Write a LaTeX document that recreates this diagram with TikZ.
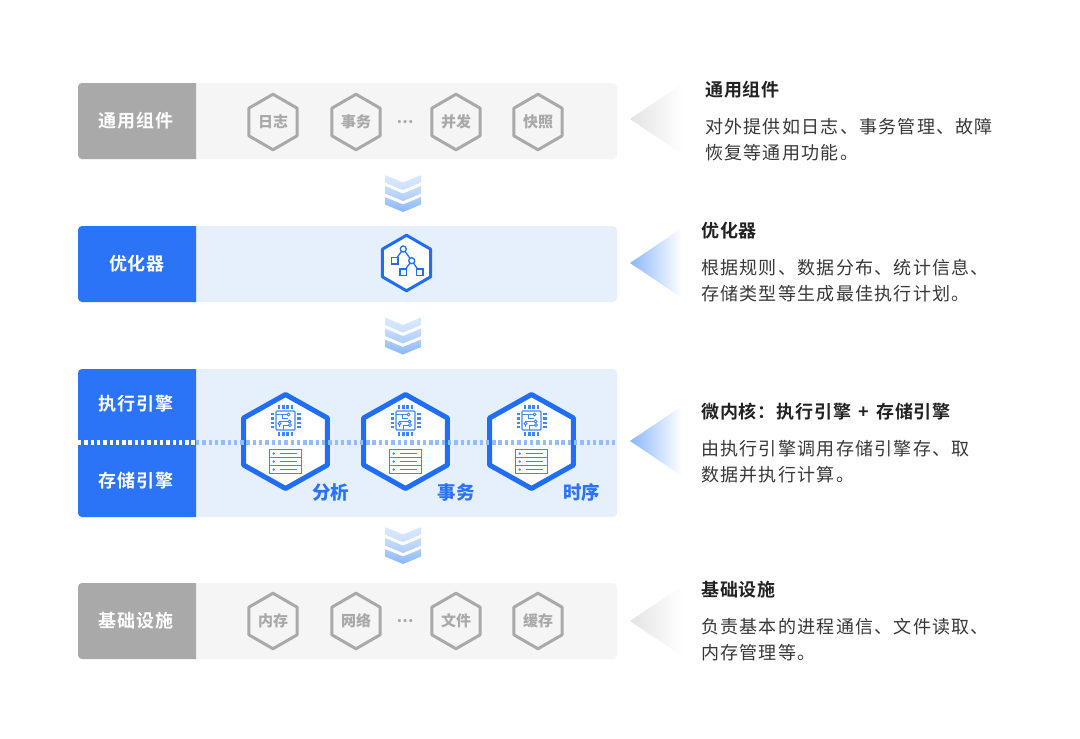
\documentclass[tikz,border=0pt]{standalone}
\usepackage{fontspec}
\usetikzlibrary{shapes.geometric,shadings}
\setmainfont{Noto Sans CJK SC}
\newfontfamily\bodyf[LetterSpace=7]{Noto Sans CJK SC}
\newfontfamily\titlef[LetterSpace=5,BoldFont={Noto Sans CJK SC Bold}]{Noto Sans CJK SC}
\definecolor{mainblue}{HTML}{2B73F7}
\definecolor{hexblue}{HTML}{1F6EF5}
\definecolor{iconblue}{HTML}{3F86F7}
\definecolor{lightblue}{HTML}{E6F0FD}
\definecolor{dotblue}{HTML}{8AB8FB}
\definecolor{dotlight}{HTML}{93BDFA}
\definecolor{midgrey}{HTML}{A9A9A9}
\definecolor{palegrey}{HTML}{F5F5F5}
\definecolor{ink}{HTML}{222222}
\tikzset{
  x=1pt,y=-1pt,
  smallhex/.style={regular polygon,regular polygon sides=6,shape border rotate=30,minimum size=55.5pt,inner sep=0pt,outer sep=0pt,
    line width=3pt,line join=round,draw=midgrey,text=midgrey,font=\fontsize{15}{16}\selectfont\bfseries},
  bighex/.style={regular polygon,regular polygon sides=6,shape border rotate=30,minimum size=94pt,inner sep=0pt,outer sep=0pt,xscale=1.03,
    line width=5pt,line join=round,draw=hexblue,fill=white},
  opthex/.style={regular polygon,regular polygon sides=6,shape border rotate=30,minimum size=55.5pt,inner sep=0pt,outer sep=0pt,
    line width=3pt,line join=round,draw=hexblue,fill=white},
  blocklabel/.style={text=white,font=\fontsize{18}{22}\titlef\bfseries},
  enginetag/.style={text=mainblue,font=\fontsize{18.5}{22}\selectfont\bfseries},
  headtext/.style={anchor=west,text=ink,inner sep=0pt,font=\fontsize{18}{22}\titlef\bfseries},
  desctext/.style={anchor=west,text=ink!90,inner sep=0pt,font=\fontsize{18}{22}\bodyf},
  dotsmark/.style={text=midgrey,font=\fontsize{15}{16}\selectfont\bfseries},
  dotline/.style={line width=4.4pt,dash pattern=on 3.4pt off 2.9pt},
  pics/layers/.style n args={3}{code={
    \shade[top color=#1!70!white,bottom color=#1] (-18,0) -- (0,7.5) -- (18,0) -- (18,7.5) -- (0,15) -- (-18,7.5) -- cycle;
    \shade[top color=#2!70!white,bottom color=#2] (-18,11) -- (0,18.5) -- (18,11) -- (18,18.5) -- (0,26) -- (-18,18.5) -- cycle;
    \shade[top color=#3!70!white,bottom color=#3] (-18,22) -- (0,29.5) -- (18,22) -- (18,29.5) -- (0,37) -- (-18,29.5) -- cycle;
  }},
  pics/chipserver/.style={code={
    % chip
    \draw[iconblue,line width=1.2pt,rounded corners=1pt] (-9.5,-30.5) rectangle (9.5,-11.5);
    \foreach \k in {-6.6,-2.2,2.2,6.6}{
      \fill[iconblue] (\k-1.3,-36.5) rectangle (\k+1.3,-33);
      \fill[iconblue] (\k-1.3,-9.5) rectangle (\k+1.3,-6);
      \fill[iconblue] (-15,\k-21-1.2) rectangle (-11.8,\k-21+1.2);
      \fill[iconblue] (11.8,\k-21-1.2) rectangle (15,\k-21+1.2);
    }
    \draw[iconblue,line width=1pt] (-9.5,-27) -- (1,-27) (-3,-27) -- (-3,-23.5) -- (2.5,-23.5)
      (-6,-14.5) -- (-6,-20) -- (2,-20) (-2,-11.5) -- (-2,-16.5) -- (3,-16.5);
    \foreach \p/\q in {3/-27,4/-20,4.5/-16.5,-6/-18}
      \draw[iconblue,line width=0.9pt,fill=white] (\p,\q) circle (1.6);
    % server
    \draw[iconblue,line width=1.2pt] (-16,8) rectangle (16,16) (-16,16) rectangle (16,24) (-16,24) rectangle (16,32);
    \foreach \k in {12,20,28}{
      \fill[iconblue] (-11.8,\k) circle (1.3);
      \draw[iconblue,line width=1.2pt] (-5.5,\k) -- (11.5,\k);
    }
  }}
}
\begin{document}
\begin{tikzpicture}
\useasboundingbox[fill=white] (0,0) rectangle (1080,739);
% block 1
\fill[palegrey,rounded corners=4pt] (78,83) rectangle (617,159);
\fill[midgrey] (196,83) [rounded corners=4pt] -- (78,83) -- (78,159) [sharp corners] -- (196,159) -- cycle;
\node[blocklabel] (lab1) at (136,121) {通用组件};
\node[smallhex] (h11) at (273,122) {日志};
\node[smallhex] (h12) at (356,122) {事务};
\node[dotsmark] (d1) at (405,122) {⋯};
\node[smallhex] (h13) at (456,122) {并发};
\node[smallhex] (h14) at (538,122) {快照};
% block 2
\fill[lightblue,rounded corners=4pt] (78,226) rectangle (617,302);
\fill[mainblue] (196,226) [rounded corners=4pt] -- (78,226) -- (78,302) [sharp corners] -- (196,302) -- cycle;
\node[blocklabel] (lab2) at (137,264) {优化器};
\node[opthex] (h2) at (406.5,263) {};
\draw[hexblue,line width=1.3pt] (403.3,249) -- (394.7,260.7) (403.3,249) -- (411.7,260.7) -- (403.3,272.3) (411.7,260.7) -- (420,272.3);
\draw[hexblue,line width=1.3pt,fill=white] (403.3,249) circle (3) (411.7,260.7) circle (3);
\draw[hexblue,line width=1.3pt,fill=white] (391.5,257.5) rectangle (398,264) (400,269) rectangle (406.5,275.5) (416.5,269) rectangle (423,275.5);
% block 3
\fill[lightblue,rounded corners=4pt] (78,369) rectangle (617,517);
\fill[mainblue] (196,369) [rounded corners=4pt] -- (78,369) -- (78,517) [sharp corners] -- (196,517) -- cycle;
\node[blocklabel] (lab3a) at (136,404) {执行引擎};
\node[blocklabel] (lab3b) at (136,481) {存储引擎};
\node[bighex] (h31) at (285.5,441.5) {};
\node[bighex] (h32) at (405.5,441.5) {};
\node[bighex] (h33) at (531.5,441.5) {};
\coordinate (dl0) at (78,442.4);
\coordinate (dl1) at (196,442.4);
\coordinate (dl2) at (617,442.4);
\draw[white,dotline] (dl0) -- (dl1);
\draw[dotlight,dotline] (dl1) -- (dl2);
\pic at (285.5,441.5) {chipserver};
\pic at (405.5,441.5) {chipserver};
\pic at (531.5,441.5) {chipserver};
\node[enginetag] (t1) at (330.5,492) {分析};
\node[enginetag] (t2) at (456,492) {事务};
\node[enginetag] (t3) at (581.5,492) {时序};
% block 4
\fill[palegrey,rounded corners=4pt] (78,583) rectangle (617,659);
\fill[midgrey] (196,583) [rounded corners=4pt] -- (78,583) -- (78,659) [sharp corners] -- (196,659) -- cycle;
\node[blocklabel] (lab4) at (136,621) {基础设施};
\node[smallhex] (h41) at (273,621) {内存};
\node[smallhex] (h42) at (356,621) {网络};
\node[dotsmark] (d4) at (405,621) {⋯};
\node[smallhex] (h43) at (456,621) {文件};
\node[smallhex] (h44) at (538,621) {缓存};
% chevrons
\pic at (403,175) {layers={dotblue!45!white}{dotblue!70!white}{dotblue}};
\pic at (403,317.5) {layers={dotblue!45!white}{dotblue!70!white}{dotblue}};
\pic at (403,527) {layers={dotblue!45!white}{dotblue!70!white}{dotblue}};
% side triangles
\shade[left color=black!11,right color=white] (630,119) -- (682,84) -- (682,154) -- cycle;
\shade[left color=dotblue,right color=white] (630,263) -- (682,228) -- (682,298) -- cycle;
\shade[left color=dotblue,right color=white] (630,441) -- (682,406) -- (682,476) -- cycle;
\shade[left color=black!11,right color=white] (630,621) -- (682,586) -- (682,656) -- cycle;
% descriptions
\node[headtext] (a1) at (705,90) {通用组件};
\node[desctext] (a2) at (705,127) {对外提供如日志、事务管理、故障};
\node[desctext] (a3) at (705,153) {恢复等通用功能。};
\node[headtext] (b1) at (701,231) {优化器};
\node[desctext] (b2) at (701,268) {根据规则、数据分布、统计信息、};
\node[desctext] (b3) at (701,294) {存储类型等生成最佳执行计划。};
\node[headtext] (c1) at (701,412) {微内核：执行引擎\hspace{7pt}+\hspace{7pt}存储引擎};
\node[desctext] (c2) at (701,449) {由执行引擎调用存储引擎存、取};
\node[desctext] (c3) at (701,475) {数据并执行计算。};
\node[headtext] (e1) at (701,590) {基础设施};
\node[desctext] (e2) at (701,627) {负责基本的进程通信、文件读取、};
\node[desctext] (e3) at (701,653) {内存管理等。};
\end{tikzpicture}
\end{document}
